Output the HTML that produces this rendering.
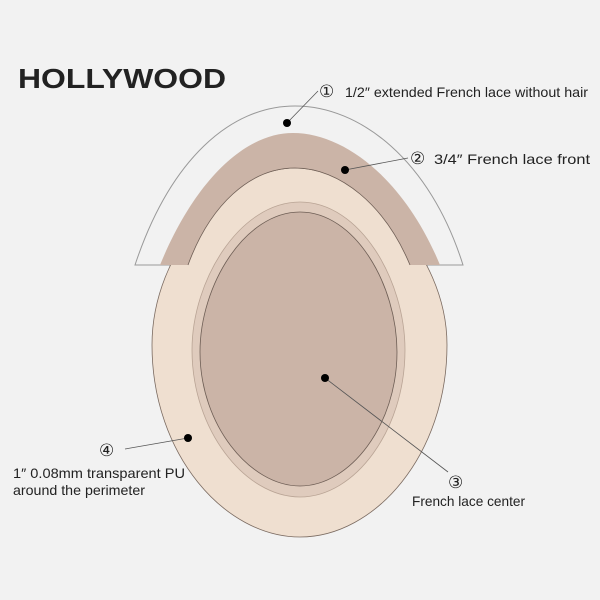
<!DOCTYPE html>
<html><head><style>
body{margin:0;background:#f2f2f2}
svg{display:block}
text{font-family:"Liberation Sans Narrow","Liberation Sans",sans-serif;fill:#222}
</style></head><body>
<svg width="600" height="600" viewBox="0 0 600 600">
<rect width="600" height="600" fill="#f2f2f2"/>
<text x="18" y="88" font-size="28" font-weight="bold" textLength="208" lengthAdjust="spacingAndGlyphs" style="font-family:'Liberation Sans',sans-serif" fill="#111">HOLLYWOOD</text>
<path d="M135,265 C170,160 230,106 295,106 C360,106 430,160 463,265 Z" fill="#f2f2f2" stroke="#999" stroke-width="1"/>
<path d="M295,168 C230,168 152,250 152,345 C152,455 225,537 300,537 C375,537 447,455 447,345 C447,250 360,168 295,168 Z" fill="#efdfd0" stroke="#7a6a60" stroke-width="0.8"/>
<path d="M160,265 C195,180 245,133 293,133 C345,133 405,180 440,265 L410,265 C385,205 340,168 295,168 C250,168 210,205 188,265 Z" fill="#cbb4a7"/>
<path d="M410,265 C385,205 340,168 295,168 C250,168 210,205 188,265" fill="none" stroke="#6e5e55" stroke-width="0.8"/>
<path d="M300,202 C240,202 192,280 192,350 C192,430 245,497 300,497 C355,497 405,430 405,350 C405,280 360,202 300,202 Z" fill="#dfcbbd" stroke="#b9a495" stroke-width="0.8"/>
<path d="M300,212 C245,212 200,285 200,352 C200,425 250,486 300,486 C350,486 397,425 397,352 C397,285 355,212 300,212 Z" fill="#cbb4a7" stroke="#6e5e55" stroke-width="0.8"/>
<g stroke="#555" stroke-width="0.8" fill="none">
<line x1="287" y1="123" x2="318" y2="91"/>
<line x1="345" y1="170" x2="408" y2="158"/>
<line x1="325" y1="378" x2="448" y2="472"/>
<line x1="188" y1="438" x2="125" y2="449"/>
</g>
<g fill="#000">
<circle cx="287" cy="123" r="4"/><circle cx="345" cy="170" r="4"/>
<circle cx="325" cy="378" r="4"/><circle cx="188" cy="438" r="4"/>
</g>
<text x="319" y="97" font-size="17">①</text>
<text x="345" y="97" font-size="14" textLength="243" lengthAdjust="spacingAndGlyphs">1/2″  extended French lace without hair</text>
<text x="410" y="164" font-size="17">②</text>
<text x="434" y="164" font-size="14" textLength="156" lengthAdjust="spacingAndGlyphs">3/4″   French lace front</text>
<text x="448" y="488" font-size="17">③</text>
<text x="412" y="506" font-size="14" textLength="113" lengthAdjust="spacingAndGlyphs">French lace center</text>
<text x="99" y="456" font-size="17">④</text>
<text x="13" y="478" font-size="14" textLength="172" lengthAdjust="spacingAndGlyphs">1″    0.08mm transparent PU</text>
<text x="13" y="495" font-size="14" textLength="132" lengthAdjust="spacingAndGlyphs">around the perimeter</text>
</svg>
</body></html>
